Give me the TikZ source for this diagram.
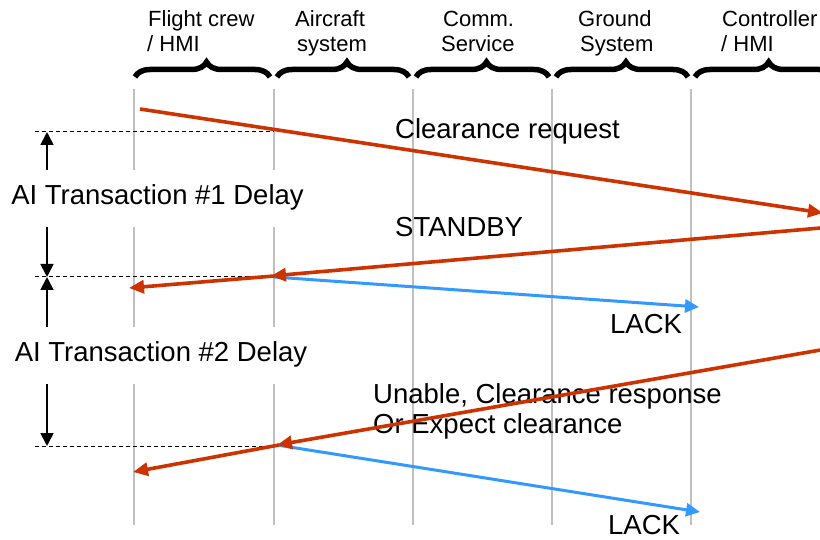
\documentclass[tikz,border=0pt]{standalone}
\usepackage{fontspec}
\setmainfont{Liberation Sans}
\usetikzlibrary{arrows.meta,decorations.pathreplacing}
\definecolor{msgred}{RGB}{204,51,0}
\definecolor{ackblue}{RGB}{51,153,255}
\definecolor{lifegray}{RGB}{192,192,192}
\begin{document}
\begin{tikzpicture}[x=1pt,y=-1pt,
  lifeline/.style={draw=lifegray,line width=2pt},
  hdr/.style={anchor=base west,inner sep=0pt,font=\fontsize{22}{25}\selectfont},
  lbl/.style={anchor=base west,inner sep=0pt,font=\fontsize{27.5}{30}\selectfont},
  delaylbl/.style={anchor=base,fill=white,inner xsep=2pt,inner ysep=0pt,text height=35pt,text depth=22pt,font=\fontsize{27.5}{30}\selectfont},
  grpbrace/.style={decorate,decoration={brace,amplitude=15pt,aspect=0.53},line width=5.5pt},
  dimarrow/.style={line width=1.8pt,-{Triangle[length=13pt,width=13pt]}},
  guide/.style={line width=1pt,dash pattern=on 4pt off 3pt},
  reqmsg/.style={draw=msgred,line width=3.6pt,-{Triangle[length=15pt,width=13pt]}},
  ackmsg/.style={draw=ackblue,line width=3pt,-{Triangle[length=14pt,width=13pt]}}]
\useasboundingbox (0,0) rectangle (820,540);
% lifelines
\coordinate (l1t) at (134,89); \coordinate (l1b) at (134,525);
\coordinate (l2t) at (274,89); \coordinate (l2b) at (274,525);
\coordinate (l3t) at (413,89); \coordinate (l3b) at (413,525);
\coordinate (l4t) at (552,89); \coordinate (l4b) at (552,525);
\coordinate (l5t) at (691,89); \coordinate (l5b) at (691,525);
\draw[lifeline] (l1t) -- (l1b);
\draw[lifeline] (l2t) -- (l2b);
\draw[lifeline] (l3t) -- (l3b);
\draw[lifeline] (l4t) -- (l4b);
\draw[lifeline] (l5t) -- (l5b);
% braces
\coordinate (b1s) at (135,77); \coordinate (b1e) at (270,77);
\coordinate (b2s) at (277,77); \coordinate (b2e) at (409,77);
\coordinate (b3s) at (416,77); \coordinate (b3e) at (549,77);
\coordinate (b4s) at (556,77); \coordinate (b4e) at (688,77);
\coordinate (b5s) at (695,77); \coordinate (b5e) at (834,77);
\draw[grpbrace] (b1s) -- (b1e);
\draw[grpbrace] (b2s) -- (b2e);
\draw[grpbrace] (b3s) -- (b3e);
\draw[grpbrace] (b4s) -- (b4e);
\draw[grpbrace] (b5s) -- (b5e);
% headers
\node[hdr] (h1a) at (148,27) {Flight crew};
\node[hdr] (h1b) at (147,52) {/ HMI};
\node[hdr] (h2a) at (295,27) {Aircraft};
\node[hdr] (h2b) at (297,52) {system};
\node[hdr] (h3a) at (443,27) {Comm.};
\node[hdr] (h3b) at (441,52) {Service};
\node[hdr] (h4a) at (578,27) {Ground};
\node[hdr] (h4b) at (580,52) {System};
\node[hdr] (h5a) at (722,27) {Controller};
\node[hdr] (h5b) at (721,52) {/ HMI};
% guides
\coordinate (g1s) at (35,132); \coordinate (g1e) at (274,132);
\coordinate (g2s) at (35,277); \coordinate (g2e) at (274,277);
\coordinate (g3s) at (35,446); \coordinate (g3e) at (277,446);
\draw[guide] (g1s) -- (g1e);
\draw[guide] (g2s) -- (g2e);
\draw[guide] (g3s) -- (g3e);
% delay labels
\node[delaylbl] (d1) at (157.5,205) {AI Transaction \#1 Delay};
\node[delaylbl] (d2) at (161,362) {AI Transaction \#2 Delay};
\coordinate (a1) at (47,132);
\coordinate (a2) at (47,277);
\coordinate (a3) at (47,446);
\draw[dimarrow] (d1.north -| a1) -- (a1);
\draw[dimarrow] (d1.south -| a2) -- (a2);
\draw[dimarrow] (d2.north -| a2) -- (a2);
\draw[dimarrow] (d2.south -| a3) -- (a3);
% message labels
\node[lbl] (t1) at (395,139) {Clearance request};
\node[lbl] (t2) at (395,237) {STANDBY};
\node[lbl] (t3) at (610,334) {LACK};
\node[lbl] (t4a) at (373,403) {Unable, Clearance response};
\node[lbl] (t4b) at (373,433) {Or Expect clearance};
\node[lbl] (t5) at (608,534) {LACK};
% messages
\coordinate (m1s) at (140,109); \coordinate (m1e) at (823,213);
\coordinate (m2s) at (832,227); \coordinate (m2a) at (271,276);
\coordinate (m2b) at (274,276); \coordinate (m2e) at (129,288);
\coordinate (k1s) at (274,277); \coordinate (k1e) at (699,307);
\coordinate (m3s) at (832,348); \coordinate (m3a) at (277,445);
\coordinate (m3b) at (279,445); \coordinate (m3e) at (133,472);
\coordinate (k2s) at (277,445); \coordinate (k2e) at (700,512);
\draw[ackmsg] (k1s) -- (k1e);
\draw[ackmsg] (k2s) -- (k2e);
\draw[reqmsg] (m1s) -- (m1e);
\draw[reqmsg] (m2s) -- (m2a);
\draw[reqmsg] (m2b) -- (m2e);
\draw[reqmsg] (m3s) -- (m3a);
\draw[reqmsg] (m3b) -- (m3e);
\end{tikzpicture}
\end{document}
